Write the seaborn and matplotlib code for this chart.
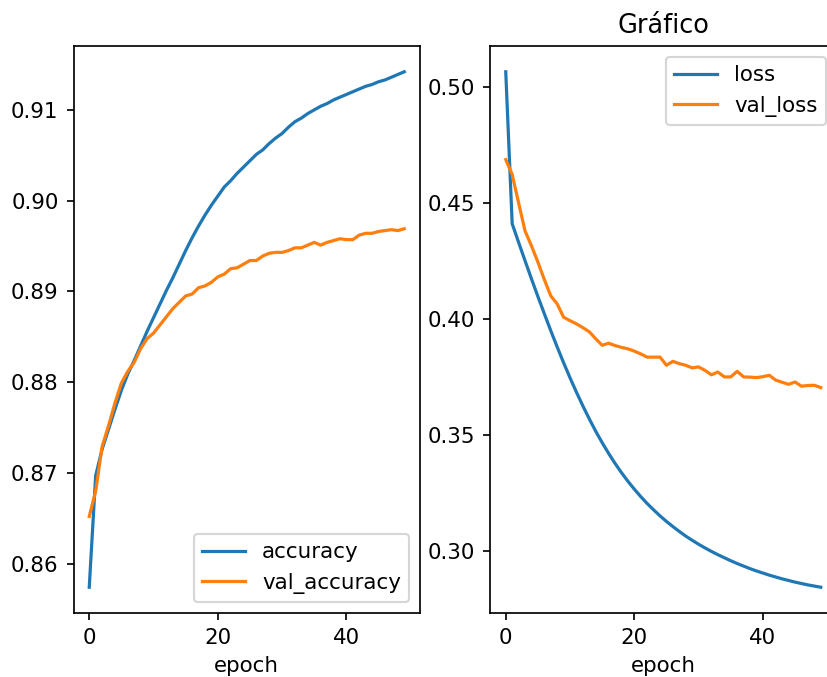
import pandas as pd
import seaborn as sns
import matplotlib
matplotlib.use("Agg")
import matplotlib.pyplot as plt

# training history (50 epochs)
accuracy = [0.8574, 0.8697, 0.8726, 0.8748, 0.8770, 0.8791, 0.8809, 0.8824, 0.8840, 0.8856,
            0.8871, 0.8886, 0.8901, 0.8915, 0.8930, 0.8945, 0.8959, 0.8972, 0.8984, 0.8995,
            0.9005, 0.9015, 0.9022, 0.9030, 0.9037, 0.9044, 0.9051, 0.9056, 0.9063, 0.9069,
            0.9074, 0.9081, 0.9087, 0.9091, 0.9096, 0.9100, 0.9104, 0.9107, 0.9111, 0.9114,
            0.9117, 0.9120, 0.9123, 0.9126, 0.9128, 0.9131, 0.9133, 0.9136, 0.9139, 0.9142]
val_accuracy = [0.8652, 0.8680, 0.8729, 0.8752, 0.8777, 0.8799, 0.8812, 0.8822, 0.8837, 0.8848,
                0.8854, 0.8863, 0.8872, 0.8881, 0.8888, 0.8895, 0.8897, 0.8904, 0.8906, 0.8910,
                0.8916, 0.8919, 0.8925, 0.8926, 0.8930, 0.8934, 0.8934, 0.8939, 0.8942, 0.8943,
                0.8943, 0.8945, 0.8948, 0.8948, 0.8951, 0.8954, 0.8951, 0.8954, 0.8956, 0.8958,
                0.8957, 0.8957, 0.8962, 0.8964, 0.8964, 0.8966, 0.8967, 0.8968, 0.8967, 0.8969]
loss = [0.5064, 0.4410, 0.4330, 0.4251, 0.4173, 0.4097, 0.4023, 0.3950, 0.3880, 0.3812,
        0.3747, 0.3685, 0.3626, 0.3570, 0.3517, 0.3468, 0.3422, 0.3379, 0.3339, 0.3302,
        0.3268, 0.3236, 0.3206, 0.3179, 0.3153, 0.3129, 0.3107, 0.3086, 0.3066, 0.3048,
        0.3031, 0.3015, 0.3000, 0.2986, 0.2973, 0.2960, 0.2948, 0.2937, 0.2926, 0.2916,
        0.2907, 0.2898, 0.2890, 0.2882, 0.2875, 0.2868, 0.2862, 0.2856, 0.2851, 0.2846]
val_loss = [0.4686, 0.4622, 0.4500, 0.4379, 0.4315, 0.4245, 0.4170, 0.4100, 0.4065, 0.4008,
            0.3993, 0.3979, 0.3963, 0.3945, 0.3915, 0.3887, 0.3896, 0.3886, 0.3878, 0.3872,
            0.3862, 0.3850, 0.3836, 0.3836, 0.3836, 0.3801, 0.3818, 0.3808, 0.3801, 0.3790,
            0.3794, 0.3779, 0.3760, 0.3772, 0.3751, 0.3751, 0.3775, 0.3751, 0.3750, 0.3748,
            0.3752, 0.3758, 0.3737, 0.3728, 0.3719, 0.3729, 0.3711, 0.3714, 0.3715, 0.3705]

hist = pd.DataFrame({'accuracy': accuracy, 'val_accuracy': val_accuracy,
                     'loss': loss, 'val_loss': val_loss})
hist.index.name = 'epoch'

colors = ['#1f77b4', '#ff7f0e']

# the reference is a crop of a bigger figure, so place the axes in pixels
dpi = 153.6
W, H = 827, 677
fig = plt.figure(figsize=(W / dpi, H / dpi), dpi=dpi)
ax1 = fig.add_axes([73.5 / W, (H - 613) / H, 346.5 / W, 567 / H])
ax2 = fig.add_axes([490 / W, (H - 613) / H, 346.5 / W, 567 / H])

sns.lineplot(data=hist[['accuracy', 'val_accuracy']], palette=colors, dashes=False, ax=ax1)
ax1.set_xlabel('epoch')
ax1.set_ylabel('')
ax1.legend(loc='lower right')

sns.lineplot(data=hist[['loss', 'val_loss']], palette=colors, dashes=False, ax=ax2)
ax2.set_xlabel('epoch')
ax2.set_ylabel('')
ax2.legend(loc='upper right')
ax2.set_title('Gráfico')

fig.savefig('out.png', dpi=dpi)
